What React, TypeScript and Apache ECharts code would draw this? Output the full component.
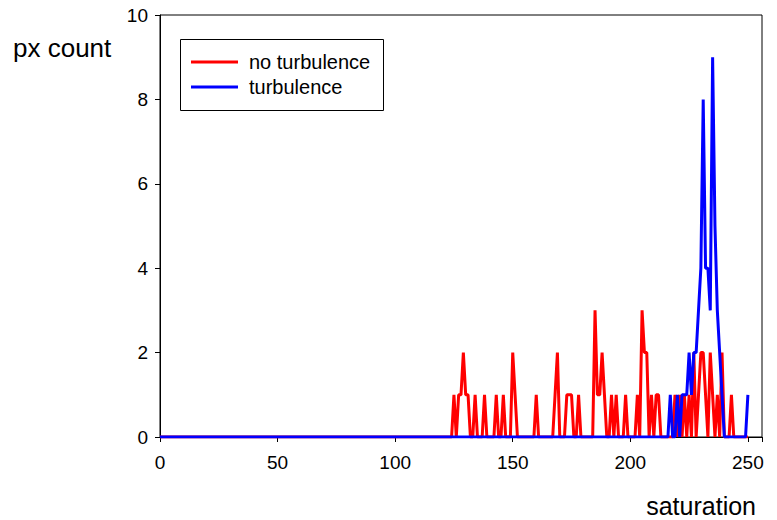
import React, { useEffect, useRef } from "react";
import * as echarts from "echarts";

// Histogram of pixel saturation (bins 0..250), only non-zero bins listed
const xMax = 256;
const lastBin = 250;
const xTickValues = [0, 50, 100, 150, 200, 250];
const yTickValues = [0, 2, 4, 6, 8, 10];

const redBins = [125, 127, 128, 129, 130, 131, 134, 138, 143, 146, 150, 151, 160, 168, 169, 173, 174, 175, 178, 185, 186, 187, 188, 189, 192, 194, 198, 203, 205, 206, 207, 209, 211, 212, 219, 221, 223, 225, 227, 229, 230, 231, 232, 234, 235, 237, 239, 243];
const redCounts = [1, 1, 1, 2, 1, 1, 1, 1, 1, 1, 2, 1, 1, 1, 2, 1, 1, 1, 1, 3, 1, 1, 2, 1, 1, 1, 1, 1, 3, 2, 2, 1, 1, 1, 1, 1, 1, 1, 2, 1, 2, 2, 1, 2, 1, 1, 2, 1];

const blueBins = [217, 220, 222, 223, 224, 225, 226, 227, 228, 229, 230, 231, 232, 233, 234, 235, 236, 237, 238, 239, 250];
const blueCounts = [1, 1, 1, 1, 1, 2, 1, 2, 2, 3, 4, 8, 4, 4, 3, 9, 5, 3, 2, 1, 1];

function buildSeries(bins: number[], counts: number[]): number[][] {
  const m = new Map<number, number>();
  bins.forEach((b, i) => m.set(b, counts[i]));
  const out: number[][] = [];
  for (let v = 0; v <= lastBin; v++) out.push([v, m.get(v) ?? 0]);
  return out;
}

const FONT = "'Liberation Sans', Arial, sans-serif";

export default function App() {
  const ref = useRef<HTMLDivElement>(null);
  useEffect(() => {
    if (!ref.current) return;
    const chart = echarts.init(ref.current, undefined, { renderer: "svg" });
    chart.setOption({
      animation: false,
      backgroundColor: "#fff",
      grid: {
        left: 160,
        top: 15,
        width: 602,
        height: 422,
        show: true,
        borderColor: "#000",
        borderWidth: 1,
        backgroundColor: "transparent",
      },
      xAxis: {
        type: "value",
        min: 0,
        max: xMax,
        interval: 50,
        axisLine: { show: true, lineStyle: { color: "#000", width: 1 } },
        axisTick: { show: true, inside: false, length: 5, lineStyle: { color: "#000" } },
        splitLine: { show: false },
        axisLabel: {
          color: "#000",
          fontSize: 19,
          fontFamily: FONT,
          margin: 16,
          formatter: (v: number) => (xTickValues.includes(v) ? String(v) : ""),
        },
      },
      yAxis: {
        type: "value",
        min: 0,
        max: 10,
        interval: 2,
        axisLine: { show: true, lineStyle: { color: "#000", width: 1 } },
        axisTick: { show: true, inside: false, length: 5, lineStyle: { color: "#000" } },
        splitLine: { show: false },
        axisLabel: {
          color: "#000",
          fontSize: 19,
          fontFamily: FONT,
          margin: 12,
          formatter: (v: number) => (yTickValues.includes(v) ? String(v) : ""),
        },
      },
      legend: {
        show: true,
        orient: "vertical",
        left: 191,
        top: 52,
        padding: 0,
        itemWidth: 47,
        itemHeight: 3,
        itemGap: 5,
        icon: "rect",
        textStyle: { color: "#000", fontSize: 20, fontFamily: FONT, lineHeight: 20, padding: [0, 0, 0, 6] },
        data: ["no turbulence", "turbulence"],
      },
      graphic: [
        {
          type: "rect",
          shape: { x: 180.5, y: 39.5, width: 203, height: 71 },
          style: { fill: "#fff", stroke: "#000", lineWidth: 1 },
          z: 3,
        },
        {
          type: "text",
          x: 13,
          y: 48,
          style: { text: "px count", fontSize: 26, fontFamily: FONT, fill: "#000", verticalAlign: "middle", align: "left" },
        },
        {
          type: "text",
          x: 756,
          y: 506,
          style: { text: "saturation", fontSize: 25, fontFamily: FONT, fill: "#000", verticalAlign: "middle", align: "right" },
        },
      ],
      series: [
        {
          name: "no turbulence",
          type: "line",
          data: buildSeries(redBins, redCounts),
          showSymbol: false,
          symbol: "none",
          color: "#ff0000",
          lineStyle: { color: "#ff0000", width: 3 },
          z: 2,
        },
        {
          name: "turbulence",
          type: "line",
          data: buildSeries(blueBins, blueCounts),
          showSymbol: false,
          symbol: "none",
          color: "#0000ff",
          lineStyle: { color: "#0000ff", width: 3 },
          z: 3,
        },
      ],
    });
    return () => chart.dispose();
  }, []);
  return <div ref={ref} style={{ position: "absolute", left: 0, top: 0, width: 777, height: 520 }} />;
}
